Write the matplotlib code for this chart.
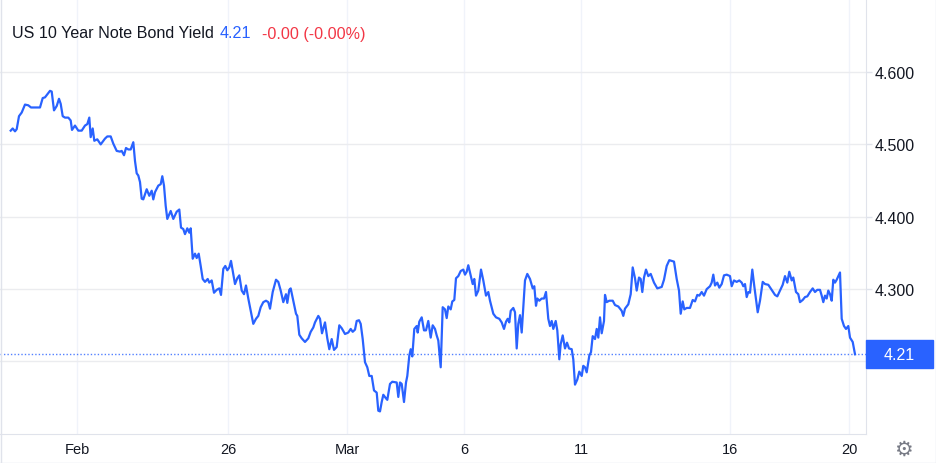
import matplotlib
matplotlib.use("Agg")
import matplotlib.pyplot as plt
from matplotlib.patches import Rectangle
from matplotlib.lines import Line2D


# 1. Datos (posición en barras del gráfico, rendimiento en %)
t = [10.7, 12.7, 15.0, 16.7, 19.0, 21.7, 25.0, 28.3, 31.0, 35.0, 40.0, 42.7, 45.0, 50.0, 51.7,
     54.0, 56.7, 59.0, 60.7, 62.7, 65.0, 68.3, 70.7, 72.0, 75.0, 78.3, 81.7, 85.0, 87.3, 89.3,
     90.7, 92.7, 94.3, 97.3, 100.7, 105.0, 107.3, 110.7, 113.3, 116.7, 120.0, 121.7, 124.0, 126.0,
     128.3, 130.7, 133.3, 135.0, 136.7, 138.3, 140.0, 141.7, 143.3, 146.7, 149.3, 151.7, 153.3,
     155.0, 158.3, 160.7, 162.3, 164.0, 165.7, 167.3, 170.7, 173.3, 176.7, 179.3, 181.0, 183.3,
     185.0, 187.3, 189.3, 190.7, 192.7, 195.0, 196.7, 198.7, 200.7, 202.7, 205.0, 207.7, 209.3,
     211.7, 214.0, 216.7, 219.3, 221.0, 223.3, 225.3, 227.3, 229.3, 231.0, 233.3, 235.0, 237.3,
     239.3, 241.7, 244.0, 246.0, 248.3, 250.7, 253.3, 256.0, 258.3, 260.7, 263.3, 266.0, 268.3,
     270.0, 272.7, 276.0, 278.3, 280.7, 283.3, 286.0, 287.3, 289.3, 290.7, 293.3, 296.0, 297.3,
     299.3, 301.7, 305.0, 308.3, 310.7, 313.3, 315.0, 318.3, 320.0, 322.0, 325.0, 327.3, 329.3,
     331.7, 334.0, 336.7, 339.3, 341.7, 345.0, 348.3, 350.7, 352.7, 355.0, 356.7, 359.0, 360.7,
     362.7, 365.0, 367.3, 369.3, 371.7, 374.0, 376.7, 378.3, 380.0, 381.7, 383.3, 386.0, 387.3,
     390.0, 392.3, 396.7, 398.3, 400.0, 401.7, 404.0, 406.0, 407.3, 409.3, 410.7, 412.3, 414.3,
     416.7, 417.7, 419.3, 421.7, 424.0, 426.0, 428.3, 430.7, 432.7, 435.0, 436.7, 438.3, 440.7,
     442.7, 445.0, 446.7, 448.3, 450.7, 452.3, 454.3, 456.0, 458.3, 460.7, 463.3, 465.0, 466.7,
     468.3, 470.7, 472.7, 474.3, 476.0, 478.3, 481.0, 483.3, 486.0, 488.3, 490.0, 493.3, 496.0,
     499.3, 501.7, 504.0, 506.0, 507.7, 509.3, 510.7, 513.3, 515.0, 516.7, 518.3, 520.0, 521.7,
     525.0, 527.3, 530.0, 532.7, 534.3, 536.0, 537.3, 539.3, 541.7, 544.0, 546.0, 548.3, 550.0,
     551.7, 553.3, 555.7, 557.3, 559.3, 560.7, 562.7, 565.0, 567.0, 569.0, 571.7, 573.3, 575.0,
     577.3, 579.3, 581.7, 583.3, 585.0, 586.7, 589.3, 591.0, 592.7, 595.0, 596.7, 598.3, 600.0,
     601.7, 604.0, 605.0, 606.7, 609.3, 612.7, 615.0, 618.3, 621.7, 623.3, 625.0, 628.3, 630.7,
     632.7, 635.0, 636.7, 639.0, 640.7, 642.3, 644.0, 646.0, 648.3, 650.7, 654.0, 657.3, 661.7,
     664.0, 666.7, 669.3, 674.0, 676.7, 679.0, 680.7, 682.7, 684.3, 686.7, 690.0, 692.7, 695.0,
     697.3, 699.3, 701.7, 704.0, 706.7, 710.0, 711.7, 713.3, 715.0, 717.3, 719.3, 721.7, 724.0,
     726.7, 730.0, 731.7, 734.0, 736.7, 739.3, 741.7, 743.3, 745.0, 746.7, 748.3, 750.0, 752.3,
     754.3, 756.0, 757.7, 760.0, 762.7, 765.0, 768.3, 771.7, 775.0, 777.3, 780.0, 782.7, 785.0,
     787.3, 789.3, 791.7, 793.3, 796.0, 798.3, 800.0, 802.7, 805.0, 807.3, 810.0, 812.7, 815.0,
     817.3, 820.0, 821.7, 823.3, 825.0, 826.7, 828.3, 830.0, 831.7, 833.3, 835.0, 836.7, 840.0,
     841.7, 844.0, 846.0, 848.3, 850.0, 852.7, 855.0]

yld = [4.519, 4.522, 4.518, 4.521, 4.539, 4.544, 4.555, 4.554, 4.551, 4.551, 4.551, 4.564, 4.565, 4.574, 4.573,
       4.547, 4.553, 4.563, 4.556, 4.539, 4.537, 4.537, 4.533, 4.520, 4.526, 4.519, 4.519, 4.526, 4.528, 4.537,
       4.510, 4.522, 4.505, 4.507, 4.500, 4.508, 4.511, 4.511, 4.501, 4.491, 4.490, 4.491, 4.485, 4.495,
       4.493, 4.493, 4.503, 4.477, 4.460, 4.457, 4.448, 4.425, 4.424, 4.438, 4.429, 4.436, 4.424,
       4.434, 4.443, 4.445, 4.456, 4.443, 4.415, 4.397, 4.408, 4.397, 4.407, 4.410, 4.385, 4.383,
       4.376, 4.384, 4.378, 4.384, 4.342, 4.349, 4.343, 4.349, 4.332, 4.314, 4.310, 4.314, 4.309,
       4.312, 4.295, 4.299, 4.301, 4.292, 4.328, 4.332, 4.326, 4.330, 4.339, 4.321, 4.307, 4.315,
       4.319, 4.298, 4.293, 4.305, 4.287, 4.270, 4.252, 4.259, 4.263, 4.275, 4.282, 4.284, 4.282,
       4.273, 4.296, 4.313, 4.310, 4.298, 4.282, 4.293, 4.281, 4.299, 4.301, 4.284, 4.266, 4.263,
       4.237, 4.232, 4.227, 4.232, 4.241, 4.247, 4.254, 4.263, 4.259, 4.239, 4.254, 4.232, 4.217,
       4.231, 4.216, 4.220, 4.250, 4.246, 4.238, 4.240, 4.245, 4.241, 4.244, 4.256, 4.257, 4.252,
       4.231, 4.199, 4.192, 4.180, 4.180, 4.160, 4.157, 4.132, 4.131, 4.144, 4.154, 4.149, 4.147,
       4.169, 4.172, 4.171, 4.151, 4.171, 4.169, 4.144, 4.171, 4.180, 4.208, 4.217, 4.207, 4.245,
       4.249, 4.240, 4.255, 4.261, 4.243, 4.243, 4.256, 4.233, 4.250, 4.245, 4.236, 4.229, 4.192,
       4.275, 4.272, 4.260, 4.276, 4.272, 4.283, 4.285, 4.315, 4.318, 4.325, 4.327, 4.320, 4.324,
       4.333, 4.319, 4.307, 4.314, 4.291, 4.298, 4.327, 4.312, 4.291, 4.296, 4.284, 4.266, 4.261,
       4.259, 4.254, 4.245, 4.255, 4.259, 4.254, 4.270, 4.274, 4.268, 4.218, 4.252, 4.264, 4.240,
       4.312, 4.321, 4.314, 4.301, 4.304, 4.277, 4.287, 4.284, 4.287, 4.287, 4.296, 4.259, 4.249,
       4.256, 4.245, 4.256, 4.243, 4.203, 4.224, 4.236, 4.218, 4.226, 4.218, 4.217, 4.203, 4.168,
       4.175, 4.186, 4.180, 4.194, 4.192, 4.185, 4.208, 4.213, 4.235, 4.231, 4.245, 4.233, 4.261,
       4.239, 4.256, 4.292, 4.282, 4.284, 4.284, 4.278, 4.276, 4.270, 4.263, 4.273, 4.279, 4.293,
       4.330, 4.315, 4.298, 4.316, 4.314, 4.296, 4.316, 4.327, 4.318, 4.321, 4.309, 4.301, 4.303,
       4.313, 4.332, 4.340, 4.338, 4.314, 4.298, 4.266, 4.283, 4.272, 4.274, 4.274, 4.285, 4.283,
       4.292, 4.291, 4.296, 4.291, 4.300, 4.304, 4.309, 4.320, 4.305, 4.309, 4.302, 4.307, 4.319,
       4.320, 4.318, 4.304, 4.312, 4.310, 4.312, 4.309, 4.304, 4.307, 4.289, 4.296, 4.295, 4.327,
       4.304, 4.286, 4.268, 4.284, 4.310, 4.307, 4.306, 4.299, 4.292, 4.290, 4.298, 4.306, 4.318,
       4.309, 4.324, 4.312, 4.316, 4.296, 4.293, 4.282, 4.285, 4.289, 4.290, 4.296, 4.301, 4.296,
       4.299, 4.299, 4.291, 4.282, 4.291, 4.287, 4.298, 4.293, 4.284, 4.313, 4.309, 4.313, 4.323,
       4.259, 4.249, 4.245, 4.249, 4.233, 4.227, 4.210]

tick_pos = [77, 228, 347, 464, 581, 730, 849]
tick_labels = ["Feb", "26", "Mar", "6", "11", "16", "20"]
price_ticks = [4.2, 4.3, 4.4, 4.5, 4.6]
price_labels = ["", "4.300", "4.400", "4.500", "4.600"]

ultimo = 4.21
titulo = "US 10 Year Note Bond Yield"
cambio = "-0.00 (-0.00%)"

# 2. Estilo
AZUL = "#2962ff"
ROJO = "#f23645"
TEXTO = "#131722"
GRIS = "#e0e3eb"
GRID = "#f0f3fa"

plt.rcParams['font.family'] = ['Liberation Sans', 'DejaVu Sans']

W, H = 936, 464
fig = plt.figure(figsize=(W / 100, H / 100), dpi=100)
ax = fig.add_axes([0, 29 / H, 866 / W, 435 / H])

# 3. Serie
ax.plot(t, yld, color=AZUL, lw=1.6, solid_joinstyle='round', zorder=3)
ax.axhline(ultimo, color=AZUL, lw=1, ls=(0, (1, 1.5)), alpha=0.8, zorder=2)

ax.set_xlim(0, 866)
ax.set_ylim(4.0998, 4.7009)

# 4. Ejes
ax.set_xticks(tick_pos, tick_labels)
ax.set_yticks(price_ticks, price_labels)
ax.yaxis.tick_right()
ax.tick_params(axis='x', length=0, pad=6, labelsize=10.5, labelcolor=TEXTO)
ax.tick_params(axis='y', length=4.5, width=1, color=GRIS, pad=1.5,
               labelsize=11.5, labelcolor=TEXTO)
ax.grid(axis='x', color=GRID, lw=1, zorder=0)
ax.grid(axis='y', color="#ebecef", lw=1, zorder=0)

for lado in ['top', 'left']:
    ax.spines[lado].set_visible(False)
ax.spines['bottom'].set_color(GRIS)
ax.spines['right'].set_color(GRIS)

# caja del último precio
caja = Rectangle((1.0, ultimo - 0.0193), 67 / 866, 0.0387,
                 transform=ax.get_yaxis_transform(), color=AZUL,
                 clip_on=False, zorder=5)
ax.add_patch(caja)
ax.text(1.0 + 33.5 / 866, ultimo, f"{ultimo:.2f}", transform=ax.get_yaxis_transform(),
        ha='center', va='center', color='white', fontsize=11.5, zorder=6)

# 5. Título
fig.canvas.draw()
r = fig.canvas.get_renderer()
t1 = fig.text(12 / W, 1 - 34 / H, titulo, fontsize=11.6, color=TEXTO, va='center')
x1 = t1.get_window_extent(r).x1
t2 = fig.text((x1 + 6) / W, 1 - 34 / H, f"{ultimo:.2f}", fontsize=11.6, color=AZUL, va='center')
x2 = t2.get_window_extent(r).x1
fig.text((x2 + 11) / W, 1 - 34 / H, cambio, fontsize=11.6, color=ROJO, va='center')

# engranaje y borde
fig.text(903 / W, 1 - 450 / H, "\u2699", fontsize=15, color="#787b86",
         family='DejaVu Sans', ha='center', va='center')
for xs, ys in [([0.5 / W, 0.5 / W], [0, 1]), ([1 - 0.5 / W, 1 - 0.5 / W], [0, 1]),
               ([0, 1], [0.5 / H, 0.5 / H])]:
    fig.add_artist(Line2D(xs, ys, color=GRIS, lw=1))

fig.savefig("out.png", dpi=100)
